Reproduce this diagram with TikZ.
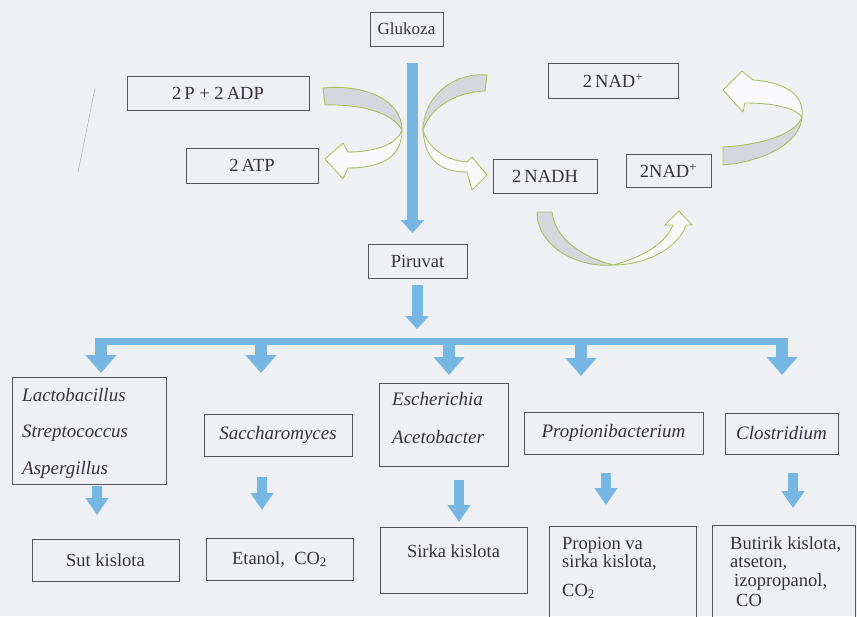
\documentclass[tikz,border=0pt]{standalone}
\usepackage{fontspec}
\setmainfont{Liberation Serif}
\usetikzlibrary{arrows.meta}
\definecolor{paper}{RGB}{239,240,244}
\definecolor{ink}{RGB}{55,50,60}
\definecolor{frame}{RGB}{85,85,92}
\definecolor{bluA}{RGB}{118,182,226}
\definecolor{grn}{RGB}{168,194,92}
\definecolor{band}{RGB}{214,215,222}
\begin{document}
\begin{tikzpicture}[x=1pt,y=-1pt,
  box/.style={draw=frame, line width=0.9pt, text=ink, inner sep=0pt, font=\fontsize{18.5}{21}\selectfont},
  ibox/.style={box, font=\fontsize{19}{22}\selectfont\itshape},
  lbl/.style={text=ink, inner sep=0pt, anchor=base west, font=\fontsize{18.5}{21}\selectfont},
  mainarrow/.style={draw=bluA, line width=11pt, -{Triangle[width=23pt,length=13pt]}},
  hbar/.style={draw=bluA, line width=7pt},
  droparrow/.style={draw=bluA, line width=12pt, -{Triangle[width=30pt,length=18pt]}},
  lowarrow/.style={draw=bluA, line width=10pt, -{Triangle[width=22pt,length=17pt]}},
  grayband/.style={draw=grn, line width=0.9pt, fill=band, line join=round},
  whiteband/.style={draw=grn, line width=0.9pt, fill=white!60!paper, line join=round}]
\fill[paper] (0,0) rectangle (857,616);
\useasboundingbox (0,0) rectangle (857,616);

% pen mark
\draw[gray!55, line width=0.6pt] (95,88) .. controls (89,118) and (83,148) .. (78,172);

% top boxes
\node[box, minimum width=73, minimum height=34, font=\fontsize{17}{20}\selectfont] (glu) at (406.5,29) {Glukoza};
\node[box, minimum width=182, minimum height=34] (adp) at (218,93) {2\,P + 2\,ADP};
\node[box, minimum width=132, minimum height=35] (atp) at (252,165.5) {2\,ATP};
\node[box, minimum width=130, minimum height=35] (nadA) at (613,80.5) {2\,NAD\textsuperscript{+}};
\node[box, minimum width=104, minimum height=34] (nadh) at (545,176) {2\,NADH};
\node[box, minimum width=85, minimum height=33] (nadB) at (668.5,170.5) {2NAD\textsuperscript{+}};
\node[box, minimum width=99, minimum height=34] (piru) at (417.5,261) {Piruvat};

% organisms
\draw[draw=frame, line width=0.9pt] (12,377) rectangle (166,484);
\node[text=ink, inner sep=0pt, anchor=north west, text width=140pt, align=left,
      font=\fontsize{19}{36.5}\selectfont\itshape] (lac) at (22,388) {Lactobacillus\\Streptococcus\\Aspergillus};
\node[ibox, minimum width=148, minimum height=42] (sac) at (278,435) {Saccharomyces};
\draw[draw=frame, line width=0.9pt] (379,383) rectangle (508,466);
\node[text=ink, inner sep=0pt, anchor=north west, text width=110pt, align=left,
      font=\fontsize{19}{38}\selectfont\itshape] (esc) at (392,392) {Escherichia\\Acetobacter};
\node[ibox, minimum width=179, minimum height=42] (pro) at (613.5,433) {Propionibacterium};
\node[ibox, minimum width=113, minimum height=41] (clo) at (781.5,433.5) {Clostridium};

% products
\node[box, minimum width=147, minimum height=42] (sut) at (105.5,560) {Sut kislota};
\node[box, minimum width=147, minimum height=42] (eta) at (279.5,559) {Etanol,\ \ CO\textsubscript{2}};
\draw[draw=frame, line width=0.9pt] (380,527) rectangle (527,593);
\node[lbl, anchor=center] (sir) at (453.5,551) {Sirka kislota};
\draw[draw=frame, line width=0.9pt] (696,620) -- (696,526) -- (549,526) -- (549,620);
\node[lbl] (p1) at (562,549) {Propion va};
\node[lbl] (p2) at (562,567) {sirka kislota,};
\node[lbl] (p3) at (562,596) {CO\textsubscript{2}};
\draw[draw=frame, line width=0.9pt] (855,620) -- (855,525) -- (712,525) -- (712,620);
\node[lbl] (b1) at (730,549) {Butirik kislota,};
\node[lbl] (b2) at (730,567) {atseton,};
\node[lbl] (b3) at (734,586) {izopropanol,};
\node[lbl] (b4) at (736,606) {CO};

% blue arrows
\coordinate (g1) at (412.5,63);
\coordinate (g2) at (412.5,233);
\draw[mainarrow] (g1) -- (g2);
\coordinate (q1) at (417,285);
\coordinate (q2) at (417,329);
\draw[mainarrow] (q1) -- (q2);
\coordinate (h1) at (95,341.5);
\coordinate (h2) at (788,341.5);
\draw[hbar] (h1) -- (h2);
\foreach \x/\e [count=\i] in {101/373, 261/373, 449/375, 581/376, 782/375}{
  \coordinate (d\i a) at (\x,338);
  \coordinate (d\i b) at (\x,\e);
  \draw[droparrow] (d\i a) -- (d\i b);
}
\foreach \x/\s/\e [count=\i] in {97/486/515, 262/477/510, 459/480/522, 606/473/505, 793/473/508}{
  \coordinate (l\i a) at (\x,\s);
  \coordinate (l\i b) at (\x,\e);
  \draw[lowarrow] (l\i a) -- (l\i b);
}

% curved arrows: left (ADP -> ATP)
\filldraw[grayband] (323,88) .. controls (365,84) and (402,100) .. (402,130)
   .. controls (392,112) and (360,104) .. (325,105) -- cycle;
\filldraw[whiteband] (402,130) .. controls (402,155) and (385,168) .. (348,168)
   -- (343,179) -- (325,159) -- (343,143) -- (348,152)
   .. controls (378,152) and (398,143) .. (402,130) -- cycle;
% right (NAD+ -> NADH)
\filldraw[grayband] (487,75) .. controls (450,72) and (423,100) .. (423,130)
   .. controls (430,108) and (455,92) .. (485,91) -- cycle;
\filldraw[whiteband] (423,130) .. controls (425,160) and (440,172) .. (467,172)
   -- (472,190) -- (487,175) -- (472,157) -- (467,162)
   .. controls (445,160) and (428,148) .. (423,130) -- cycle;
% bottom (NADH -> NAD+)
\filldraw[grayband] (537,212) .. controls (537,245) and (575,268) .. (613,265)
   .. controls (585,258) and (555,240) .. (552,212) -- cycle;
\filldraw[whiteband] (613,265) .. controls (650,265) and (680,245) .. (686,225)
   -- (692,225) -- (679,211) -- (665,225) -- (673,225)
   .. controls (665,245) and (640,258) .. (613,265) -- cycle;
% right cycle (NAD+ -> NAD+)
\filldraw[grayband] (723,165) .. controls (760,162) and (800,145) .. (802,117)
   .. controls (795,135) and (760,145) .. (723,147) -- cycle;
\filldraw[whiteband] (802,117) .. controls (805,95) and (785,82) .. (753,80)
   -- (742,71) -- (723,90) -- (743,112) -- (745,103)
   .. controls (775,103) and (795,108) .. (802,117) -- cycle;
\end{tikzpicture}
\end{document}
